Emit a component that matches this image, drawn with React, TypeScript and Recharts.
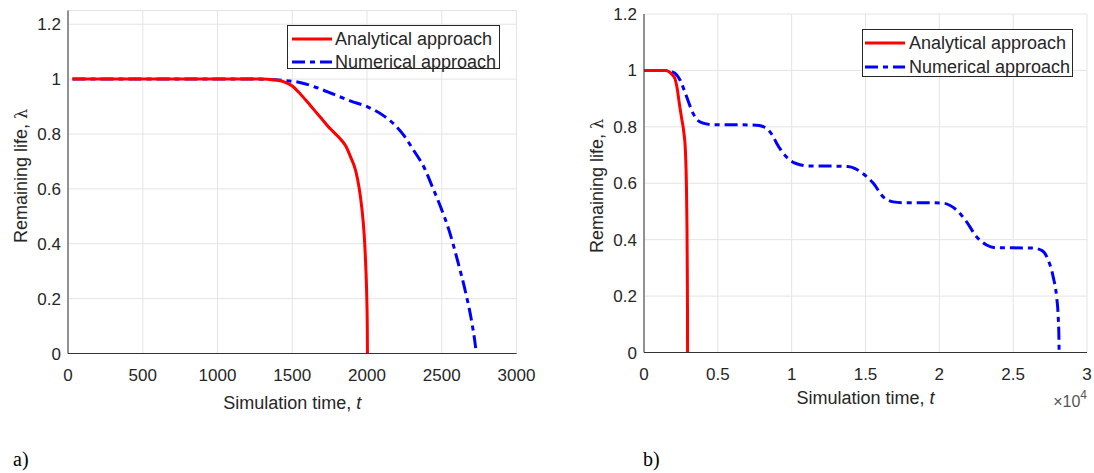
import { LineChart, Line, XAxis, YAxis, CartesianGrid, Legend } from "recharts";

type Pt = { t: number; v: number };

// panel a) values, t in simulation steps
const leftTicksX = [0, 500, 1000, 1500, 2000, 2500, 3000];
const leftAnalytical: Pt[] = [
  [30, 1], [1300, 1], [1380, 0.997], [1445, 0.99], [1500, 0.975], [1557, 0.944],
  [1624, 0.902], [1691, 0.859], [1758, 0.817], [1813, 0.787], [1858, 0.756],
  [1892, 0.714], [1925, 0.665], [1947, 0.605], [1965, 0.532], [1981, 0.435],
  [1992, 0.314], [1999, 0.193], [2002, 0.09], [2003, 0],
].map(([t, v]) => ({ t, v }));
const leftNumerical: Pt[] = [
  [30, 1], [1250, 1], [1445, 0.995], [1557, 0.987], [1669, 0.968], [1780, 0.944],
  [1892, 0.92], [2003, 0.899], [2115, 0.865], [2182, 0.835], [2249, 0.793],
  [2315, 0.738], [2383, 0.677], [2439, 0.605], [2494, 0.532], [2550, 0.447],
  [2606, 0.338], [2662, 0.217], [2695, 0.132], [2729, 0.01], [2731, 0],
].map(([t, v]) => ({ t, v }));

// panel b) values, t in simulation steps (axis shown in units of 1e4)
const rightTicksX = [0, 5000, 10000, 15000, 20000, 25000, 30000];
const rightAnalytical: Pt[] = [
  [0, 1], [1500, 1], [1700, 0.995], [1900, 0.985], [2100, 0.97], [2250, 0.935],
  [2400, 0.88], [2550, 0.83], [2700, 0.78], [2800, 0.72], [2870, 0.6],
  [2910, 0.45], [2930, 0.3], [2945, 0.15], [2950, 0],
].map(([t, v]) => ({ t, v }));
const rightNumerical: Pt[] = [
  [0, 1], [1600, 1], [1900, 0.995], [2200, 0.985], [2450, 0.965], [2650, 0.94],
  [2900, 0.905], [3100, 0.876], [3350, 0.845], [3600, 0.825], [4000, 0.813],
  [4600, 0.808], [5500, 0.807], [6500, 0.807], [7600, 0.806], [8000, 0.802],
  [8300, 0.794], [8700, 0.77], [9000, 0.74], [9650, 0.693], [10300, 0.67],
  [11200, 0.661], [12500, 0.661], [13800, 0.659], [14300, 0.652], [14800, 0.635],
  [15530, 0.6], [16200, 0.552], [16880, 0.534], [17500, 0.531], [19000, 0.531],
  [20300, 0.529], [20700, 0.522], [21170, 0.505], [21850, 0.463], [22520, 0.41],
  [23200, 0.381], [23880, 0.371], [25000, 0.371], [26360, 0.37], [26930, 0.362],
  [27380, 0.327], [27710, 0.268], [27940, 0.198], [28050, 0.127], [28100, 0.05],
  [28110, 0],
].map(([t, v]) => ({ t, v }));

const yTicks = [0, 0.2, 0.4, 0.6, 0.8, 1, 1.2];
const legendLabels = ["Analytical approach", "Numerical approach"];

const FONT = "'Liberation Sans', Arial, Helvetica, sans-serif";
const INK = "#262626";
const FRAME = "#333333";
const RED = "#ff0000";
const BLUE = "#0000ff";
const DASH = "13 5 5 5";

const EmptyTick = () => <g />;

type LegendBoxProps = {
  w: number;
  h: number;
  rows: number[];
  line: [number, number];
  textX: number;
};

const LegendBox = ({ w, h, rows, line, textX }: LegendBoxProps) => (
  <div
    style={{
      position: "relative",
      width: w,
      height: h,
      boxSizing: "border-box",
      border: `1px solid ${INK}`,
      background: "#fff",
      fontFamily: FONT,
      fontSize: 18,
      color: INK,
    }}
  >
    {legendLabels.map((label, i) => (
      <div
        key={label}
        style={{
          position: "absolute",
          left: 0,
          top: rows[i] - 11,
          height: 22,
          lineHeight: "22px",
          whiteSpace: "nowrap",
        }}
      >
        <svg width={w} height={22} style={{ position: "absolute", left: -1, top: 0 }}>
          <line
            x1={line[0]}
            x2={line[1]}
            y1={11}
            y2={11}
            stroke={i === 0 ? RED : BLUE}
            strokeWidth={3}
            strokeDasharray={i === 0 ? undefined : DASH}
          />
        </svg>
        <span style={{ position: "absolute", left: textX - 1, top: 0 }}>{label}</span>
      </div>
    ))}
  </div>
);

type PanelProps = {
  width: number;
  margin: { top: number; right: number; bottom: number; left: number };
  xDomain: [number, number];
  xTicks: number[];
  xFormat?: (v: number) => string;
  yDomain: [number, number];
  analytical: Pt[];
  numerical: Pt[];
  titleDy: number;
  yTitleX: number;
  yTitleY: number;
  exponent?: boolean;
  legend: LegendBoxProps & { left: number; top: number };
};

const Panel = ({
  width,
  margin,
  xDomain,
  xTicks,
  xFormat,
  yDomain,
  analytical,
  numerical,
  titleDy,
  yTitleX,
  yTitleY,
  exponent,
  legend,
}: PanelProps) => (
  <LineChart width={width} height={473} margin={margin}>
    <CartesianGrid stroke="#e4e4e4" xAxisId="x" yAxisId="y" />
    <XAxis
      xAxisId="x"
      dataKey="t"
      type="number"
      domain={xDomain}
      ticks={xTicks}
      tickFormatter={xFormat}
      allowDataOverflow
      height={30}
      tickLine={false}
      tickSize={0}
      tickMargin={15}
      fontSize={17}
      axisLine={{ stroke: FRAME }}
      tick={{ fill: INK, fontSize: 17, fontFamily: FONT }}
      label={(p: any) => {
        const vb = p.viewBox;
        const cx = vb.x + vb.width / 2;
        return (
          <g>
            <text
              x={cx}
              y={vb.y + titleDy}
              textAnchor="middle"
              dominantBaseline="central"
              fill={INK}
              fontSize={18}
              fontFamily={FONT}
            >
              Simulation time, <tspan fontStyle="italic">t</tspan>
            </text>
            {exponent && (
              <text
                x={vb.x + vb.width}
                y={vb.y + 54}
                textAnchor="end"
                fill="#555"
                fontSize={16}
                fontFamily={FONT}
              >
                ×10<tspan dy={-8} fontSize={12}>4</tspan>
              </text>
            )}
          </g>
        );
      }}
    />
    <XAxis
      xAxisId="xb"
      dataKey="t"
      type="number"
      domain={xDomain}
      ticks={xTicks}
      allowDataOverflow
      mirror
      height={0}
      tickSize={5}
      tick={EmptyTick}
      axisLine={false}
      tickLine={{ stroke: FRAME }}
    />
    <XAxis
      xAxisId="xt"
      orientation="top"
      dataKey="t"
      type="number"
      domain={xDomain}
      ticks={xTicks}
      allowDataOverflow
      mirror
      height={0}
      tickSize={5}
      tick={EmptyTick}
      axisLine={{ stroke: FRAME }}
      tickLine={{ stroke: FRAME }}
    />
    <YAxis
      yAxisId="y"
      type="number"
      domain={yDomain}
      ticks={yTicks}
      allowDataOverflow
      width={60}
      tickLine={false}
      tickSize={0}
      tickMargin={7}
      fontSize={17}
      axisLine={{ stroke: FRAME }}
      tick={{ fill: INK, fontSize: 17, fontFamily: FONT }}
      label={(p: any) => {
        const vb = p.viewBox;
        const x = vb.x + vb.width + yTitleX;
        const y = yTitleY;
        return (
          <text
            x={x}
            y={y}
            transform={`rotate(-90 ${x} ${y})`}
            textAnchor="middle"
            dominantBaseline="central"
            fill={INK}
            fontSize={18}
            fontFamily={FONT}
          >
            Remaining life, <tspan fontFamily="'DejaVu Serif', serif" fontSize={16}>λ</tspan>
          </text>
        );
      }}
    />
    <YAxis
      yAxisId="yl"
      type="number"
      domain={yDomain}
      ticks={yTicks}
      allowDataOverflow
      mirror
      width={0}
      tickSize={5}
      tick={EmptyTick}
      axisLine={false}
      tickLine={{ stroke: FRAME }}
    />
    <YAxis
      yAxisId="yr"
      orientation="right"
      type="number"
      domain={yDomain}
      ticks={yTicks}
      allowDataOverflow
      mirror
      width={0}
      tickSize={5}
      tick={EmptyTick}
      axisLine={{ stroke: FRAME }}
      tickLine={{ stroke: FRAME }}
    />
    <Legend
      layout="horizontal"
      verticalAlign="middle"
      align="center"
      wrapperStyle={{ left: legend.left, top: legend.top, width: legend.w, height: legend.h }}
      content={() => <LegendBox {...legend} />}
    />
    <Line
      xAxisId="x"
      yAxisId="y"
      data={numerical}
      dataKey="v"
      type="monotone"
      stroke={BLUE}
      strokeWidth={3}
      strokeDasharray={DASH}
      dot={false}
      isAnimationActive={false}
    />
    <Line
      xAxisId="x"
      yAxisId="y"
      data={analytical}
      dataKey="v"
      type="monotone"
      stroke={RED}
      strokeWidth={3}
      dot={false}
      isAnimationActive={false}
    />
  </LineChart>
);

const tagStyle = (left: number): React.CSSProperties => ({
  position: "absolute",
  left,
  top: 448,
  fontFamily: "'Liberation Serif', 'Times New Roman', serif",
  fontSize: 20,
  color: "#000",
});

export default function App() {
  return (
    <div style={{ position: "absolute", left: 0, top: 0, width: 1094, height: 473, background: "#fff" }}>
      <div style={{ position: "absolute", left: 0, top: 0 }}>
        <Panel
          width={560}
          margin={{ top: 10.5, right: 43.5, bottom: 89.5, left: 8 }}
          xDomain={[0, 3000]}
          xTicks={leftTicksX}
          yDomain={[0, 1.25]}
          analytical={leftAnalytical}
          numerical={leftNumerical}
          titleDy={49.5}
          yTitleX={-47}
          yTitleY={176}
          legend={{ left: 287, top: 25, w: 213, h: 44, rows: [13.3, 36], line: [5, 45], textX: 48 }}
        />
      </div>
      <div style={{ position: "absolute", left: 560, top: 0 }}>
        <Panel
          width={534}
          margin={{ top: 14, right: 7, bottom: 90.5, left: 24 }}
          xDomain={[0, 30000]}
          xTicks={rightTicksX}
          xFormat={(v: number) => String(v / 10000)}
          yDomain={[0, 1.2]}
          analytical={rightAnalytical}
          numerical={rightNumerical}
          titleDy={45.5}
          yTitleX={-47}
          yTitleY={186}
          exponent
          legend={{ left: 302, top: 28.5, w: 211, h: 48.5, rows: [13.4, 37.4], line: [3, 43], textX: 47 }}
        />
      </div>
      <div style={tagStyle(13)}>a)</div>
      <div style={tagStyle(643)}>b)</div>
    </div>
  );
}
